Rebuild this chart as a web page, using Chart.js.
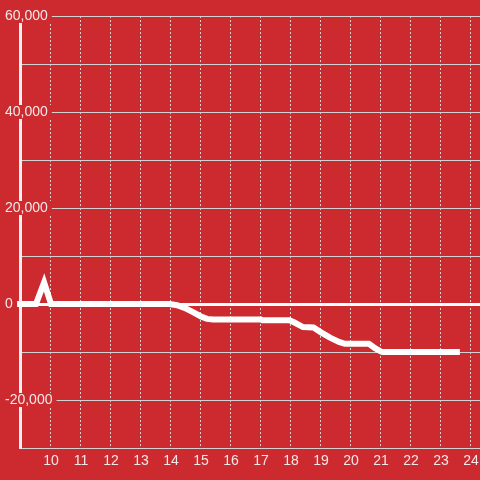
<!DOCTYPE html>
<html>
<head>
<meta charset="utf-8">
<script src="https://cdn.jsdelivr.net/npm/chart.js@4/dist/chart.umd.min.js"></script>
<style>
  html, body { margin: 0; padding: 0; background: #cc2a2f; }
  canvas { display: block; }
</style>
</head>
<body>
<canvas id="c" width="480" height="480"></canvas>
<script>
// Hours of the day (x) and running value (y)
const hours = [8.87, 9.5, 9.77, 10.0, 13.95, 14.2, 14.45, 14.7, 15.0, 15.2, 15.4, 17.0, 17.05, 17.95, 18.1, 18.4, 18.75, 19.0, 19.3, 19.6, 19.8, 20.6, 20.8, 21.0, 21.05, 23.63];
const values = [0, 0, 4500, 0, 0, -250, -800, -1600, -2600, -3100, -3250, -3250, -3400, -3400, -3800, -4800, -4900, -5900, -7000, -7900, -8300, -8300, -9200, -9900, -10000, -10000];
const hourTicks = [10, 11, 12, 13, 14, 15, 16, 17, 18, 19, 20, 21, 22, 23, 24];
const yLabelValues = [60000, 40000, 20000, 0, -20000];

const BG = '#cc2a2f';
const TEXT = '#f2e9e9';
const GRID = '#d2d2d2';
const FONT = { family: '"Liberation Sans", Arial, sans-serif', size: 14, lineHeight: 1 };

const points = hours.map((h, i) => ({ x: h, y: values[i] }));

new Chart(document.getElementById('c'), {
  type: 'line',
  data: {
    datasets: [{
      data: points,
      borderColor: '#ffffff',
      borderWidth: 6,
      pointRadius: 0,
      tension: 0,
      fill: false,
      clip: false
    }]
  },
  options: {
    responsive: false,
    animation: false,
    events: [],
    layout: { padding: { left: 20, top: 16, right: 0, bottom: 0 } },
    plugins: { legend: { display: false }, tooltip: { enabled: false } },
    scales: {
      x: {
        type: 'linear',
        min: 8.967,
        max: 24.3,
        afterBuildTicks: (s) => { s.ticks = hourTicks.map(v => ({ value: v })); },
        afterFit: (s) => { s.height = 32; s.paddingLeft = 0; s.paddingRight = 0; },
        grid: { color: GRID, lineWidth: 1, drawTicks: false },
        border: { display: false, dash: [2, 2] },
        ticks: { color: TEXT, font: FONT, padding: 6, maxRotation: 0, autoSkip: false }
      },
      y: {
        min: -30000,
        max: 60000,
        afterFit: (s) => { s.width = 0; s.paddingTop = 0; s.paddingBottom = 0; },
        grid: {
          drawTicks: false,
          color: (ctx) => ctx.tick && ctx.tick.value === 0 ? '#ffffff' : GRID,
          lineWidth: (ctx) => ctx.tick && ctx.tick.value === 0 ? 3 : 1
        },
        border: { display: true, color: '#f4f0f0', width: 3 },
        ticks: {
          stepSize: 10000,
          mirror: true,
          padding: -15,
          color: TEXT,
          font: FONT,
          autoSkip: false,
          callback: (v) => yLabelValues.includes(v) ? v.toLocaleString('en-US') : '',
          showLabelBackdrop: (ctx) => yLabelValues.includes(ctx.tick.value),
          backdropColor: BG,
          backdropPadding: { left: 5, right: 4, top: 0, bottom: 0 }
        }
      }
    }
  }
});
</script>
</body>
</html>
